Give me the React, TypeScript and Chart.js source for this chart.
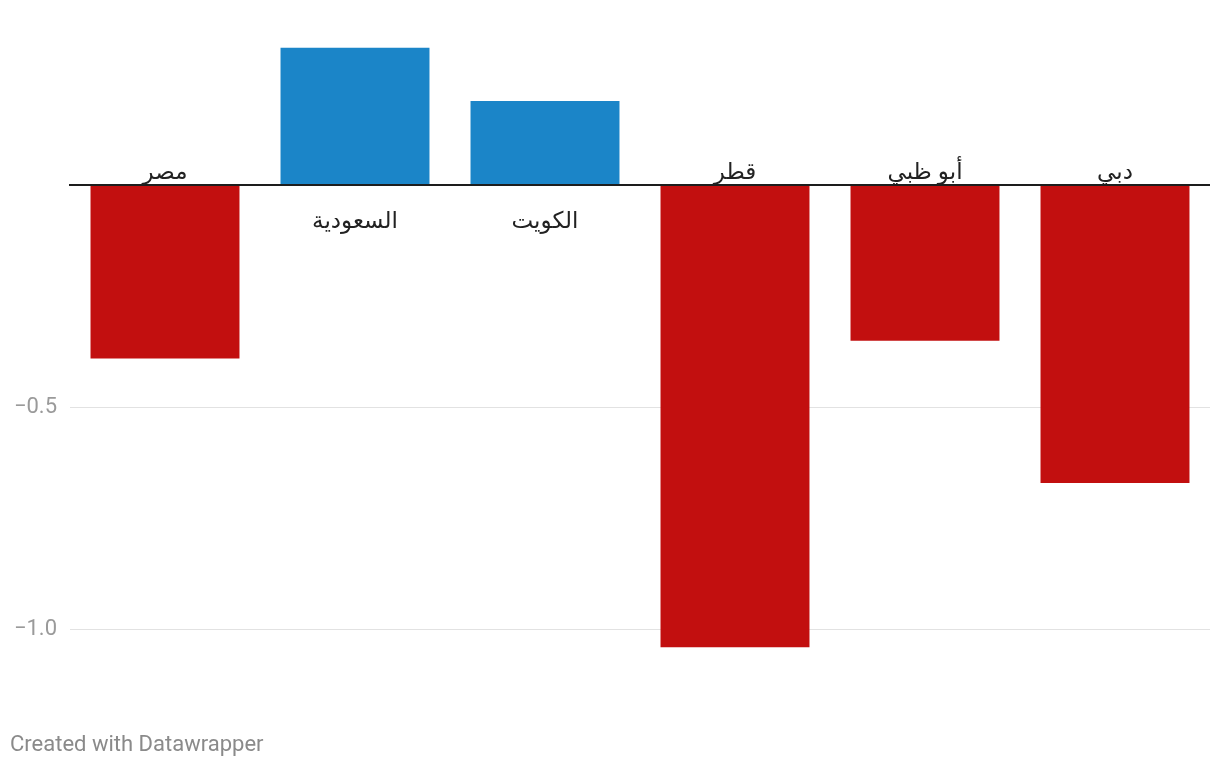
import React, { useEffect, useRef } from "react";
import { Chart, registerables } from "chart.js";

Chart.register(...registerables);

const categories = ["مصر", "السعودية", "الكويت", "قطر", "أبو ظبي", "دبي"];
const values = [-0.39, 0.31, 0.19, -1.04, -0.35, -0.67];
const tickValues = [-1, -0.5, 0];

const RED = "#c20f0f";
const BLUE = "#1b85c8";

const labelPlugin = {
  id: "catLabels",
  afterDatasetsDraw(chart: any) {
    const { ctx, chartArea } = chart;
    const y = chart.scales.y;
    const zeroY = Math.round(y.getPixelForValue(0));
    ctx.save();
    ctx.fillStyle = "#1d1d1d";
    ctx.fillRect(chartArea.left - 1, zeroY - 1, chartArea.right - chartArea.left + 1, 2);
    const meta = chart.getDatasetMeta(0);
    ctx.font = "23px 'Noto Sans', Roboto, 'DejaVu Sans', sans-serif";
    ctx.fillStyle = "#222";
    ctx.textAlign = "center";
    meta.data.forEach((bar: any, i: number) => {
      const v = values[i];
      if (v < 0) {
        ctx.textBaseline = "alphabetic";
        ctx.fillText(categories[i], bar.x, zeroY - 6);
      } else {
        ctx.textBaseline = "middle";
        ctx.fillText(categories[i], bar.x, zeroY + 36);
      }
    });
    ctx.font = "22px Roboto, sans-serif";
    ctx.fillStyle = "#8a8a8a";
    ctx.textAlign = "left";
    ctx.textBaseline = "middle";
    ctx.fillText("Created with Datawrapper", 10, 745);
    ctx.restore();
  },
};

export default function App() {
  const ref = useRef<HTMLCanvasElement>(null);
  useEffect(() => {
    if (!ref.current) return;
    const chart = new Chart(ref.current, {
      type: "bar",
      data: {
        labels: categories,
        datasets: [
          {
            data: values,
            backgroundColor: values.map((v) => (v < 0 ? RED : BLUE)),
            barPercentage: 0.784,
            categoryPercentage: 1,
          },
        ],
      },
      options: {
        animation: false,
        responsive: false,
        maintainAspectRatio: false,
        layout: { padding: { top: 30, bottom: 72, left: 0, right: 10 } },
        plugins: { legend: { display: false }, tooltip: { enabled: false } },
        scales: {
          x: { display: false },
          y: {
            min: -1.15,
            max: 0.35,
            afterBuildTicks: (scale: any) => {
              scale.ticks = tickValues.map((v) => ({ value: v }));
            },
            afterFit: (scale: any) => {
              scale.width = 70;
            },
            border: { display: false },
            grid: {
              drawTicks: false,
              color: (c: any) => (c.tick && c.tick.value === 0 ? "rgba(0,0,0,0)" : "#e2e2e2"),
              lineWidth: 1,
            },
            ticks: {
              padding: 13,
              color: "#9a9a9a",
              font: { family: "Roboto", size: 22 },
              callback: (v: any) =>
                Number(v) === 0 ? "" : (Number(v) < 0 ? "\u2212" : "") + Math.abs(Number(v)).toFixed(1),
            },
          },
        },
      },
      plugins: [labelPlugin],
    });
    return () => chart.destroy();
  }, []);
  return (
    <div style={{ position: "fixed", left: 0, top: 0, width: 1220, height: 768, background: "#fff" }}>
      <canvas ref={ref} width={1220} height={768} style={{ width: 1220, height: 768 }} />
    </div>
  );
}
